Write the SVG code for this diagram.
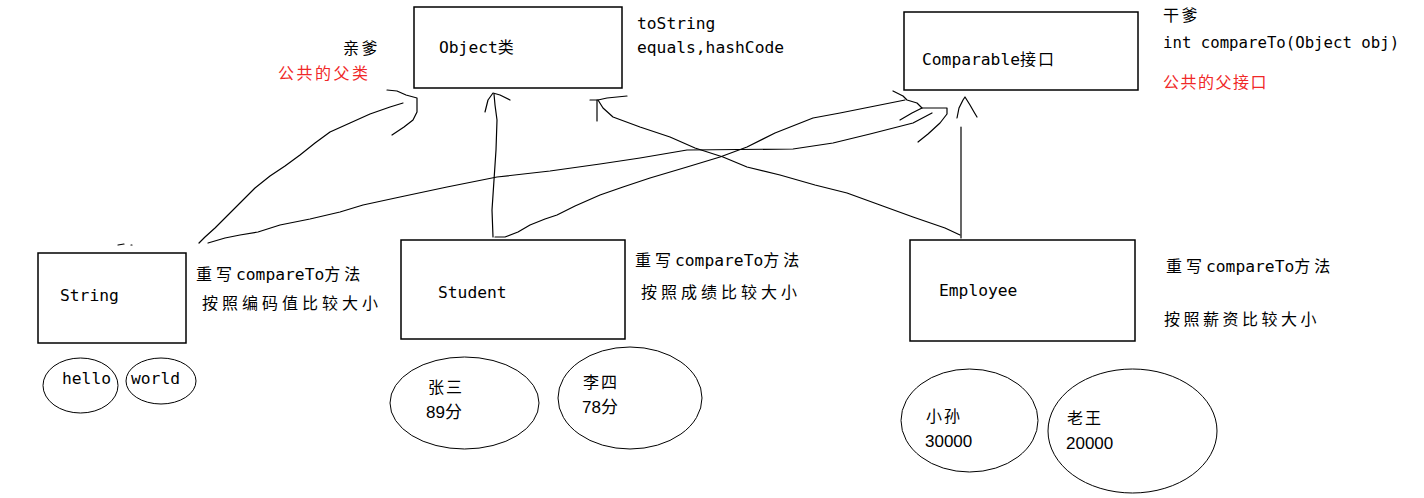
<svg xmlns="http://www.w3.org/2000/svg" width="1424" height="498" viewBox="0 0 1424 498">
<style>
.box{fill:none;stroke:#000;stroke-width:1.5}
.ell{fill:none;stroke:#000;stroke-width:1}
.ln{fill:none;stroke:#000;stroke-width:1.2;stroke-linejoin:round;stroke-linecap:round}
.m{font-family:"DejaVu Sans Mono","Liberation Mono","Noto Sans CJK SC",monospace;font-size:16.3px;fill:#000}
.c{font-family:"Noto Sans CJK SC",sans-serif;font-size:16px;fill:#000;letter-spacing:2.5px}
.r{fill:#f02828}
.d{font-family:"Liberation Sans","Noto Sans CJK SC",sans-serif;font-size:17px;fill:#000}
.cj{font-family:"Noto Sans CJK SC",sans-serif;font-size:16px;letter-spacing:4px}
</style>
<rect width="1424" height="498" fill="#fff"/>
<g id="connectors">
<polyline class="ln" points="199,243 205,237 215,228 228,215 240,203 255,188 270,176 285,166 300,155 315,143 330,132 350,123 370,114 390,107 403,103"/>
<polyline class="ln" points="387,90 397,91 406,95 417,98 417,112 413,120 404,127 392,135"/>
<polyline class="ln" points="208,243 225,238 240,235 258,232 280,225 310,219 340,212 363,205 400,197 447,187 497,177 550,171 600,164 640,158 687,150 793,149 833,143 870,134 913,123 932,113"/>
<polyline class="ln" points="893,91 903,96 907,100 917,103 922,108"/>
<polyline class="ln" points="900,120 912,113 922,108 947,108 947,114 940,123 928,134 918,142"/>
<polyline class="ln" points="493,237 492,210 494,180 496,150 497,120 495,105 494,94"/>
<polyline class="ln" points="485,112 488,100 493,93 500,95 510,100"/>
<polyline class="ln" points="495,237 505,237 518,232 530,225 545,219 557,215 575,206 600,195 623,187 650,178 687,167 720,157 747,147 775,133 813,118 840,113 870,107 905,100"/>
<polyline class="ln" points="960,235 945,228 913,217 880,205 847,193 815,185 780,175 747,167 723,157 695,148 670,137 640,127 613,117 603,108 598,100"/>
<polyline class="ln" points="597,100 597,121"/>
<polyline class="ln" points="590,100 598,100 607,98 617,97 627,96"/>
<polyline class="ln" points="961,238 961,127"/>
<polyline class="ln" points="957,118 959,108 963,100 965,97 970,105 974,112 977,117"/>
<polyline class="ln" points="118,245 124,244"/>
<polyline class="ln" points="131,245 132,245"/>
</g>
<g id="object">
<rect class="box" x="414" y="7" width="208" height="81"/>
<text class="m" x="439" y="53">Object<tspan class="cj">类</tspan></text>
<text class="m" x="637" y="29">toString</text>
<text class="m" x="637" y="53">equals,hashCode</text>
<text class="c" x="343" y="54">亲爹</text>
<text class="c r" x="278" y="79">公共的父类</text>
</g>
<g id="comparable">
<rect class="box" x="904" y="12" width="234" height="78"/>
<text class="m" x="922" y="65">Comparable<tspan class="cj" style="letter-spacing:2px">接口</tspan></text>
<text class="c" x="1163" y="21">干爹</text>
<text class="m" x="1163" y="48" style="font-size:15.7px">int compareTo(Object obj)</text>
<text class="c r" x="1163" y="88" style="letter-spacing:1.5px">公共的父接口</text>
</g>
<g id="string">
<rect class="box" x="38" y="253" width="148" height="90"/>
<text class="m" x="60" y="301">String</text>
<text class="m" x="196" y="280"><tspan class="cj">重写</tspan>compareTo<tspan class="cj">方法</tspan></text>
<text class="c" x="202" y="309" style="letter-spacing:4px">按照编码值比较大小</text>
</g>
<g id="hello">
<ellipse class="ell" cx="80.5" cy="385.5" rx="37.5" ry="27.5"/>
<text class="m" x="62" y="384">hello</text>
</g>
<g id="world">
<ellipse class="ell" cx="161" cy="381" rx="35" ry="23"/>
<text class="m" x="131" y="384">world</text>
</g>
<g id="student">
<rect class="box" x="401" y="240" width="224" height="99"/>
<text class="m" x="438" y="298">Student</text>
<text class="m" x="635" y="266"><tspan class="cj">重写</tspan>compareTo<tspan class="cj">方法</tspan></text>
<text class="c" x="641" y="298" style="letter-spacing:4px">按照成绩比较大小</text>
</g>
<g id="zhangsan">
<ellipse class="ell" cx="464.5" cy="403" rx="74.5" ry="46"/>
<text class="c" x="428" y="393" style="letter-spacing:2px">张三</text>
<text class="d" x="426" y="418">89分</text>
</g>
<g id="lisi">
<ellipse class="ell" cx="630" cy="398" rx="72" ry="51"/>
<text class="c" x="583" y="388" style="letter-spacing:2px">李四</text>
<text class="d" x="582" y="413">78分</text>
</g>
<g id="employee">
<rect class="box" x="910" y="240" width="225" height="101"/>
<text class="m" x="939" y="296">Employee</text>
<text class="m" x="1166" y="272"><tspan class="cj">重写</tspan>compareTo<tspan class="cj">方法</tspan></text>
<text class="c" x="1164" y="325" style="letter-spacing:3.5px">按照薪资比较大小</text>
</g>
<g id="xiaosun">
<ellipse class="ell" cx="969.5" cy="420.5" rx="68.5" ry="51.5"/>
<text class="c" x="926" y="422" style="letter-spacing:2px">小孙</text>
<text class="d" x="925" y="447">30000</text>
</g>
<g id="laowang">
<ellipse class="ell" cx="1132.5" cy="431" rx="84.5" ry="62"/>
<text class="c" x="1067" y="424" style="letter-spacing:2px">老王</text>
<text class="d" x="1066" y="449">20000</text>
</g>
</svg>
